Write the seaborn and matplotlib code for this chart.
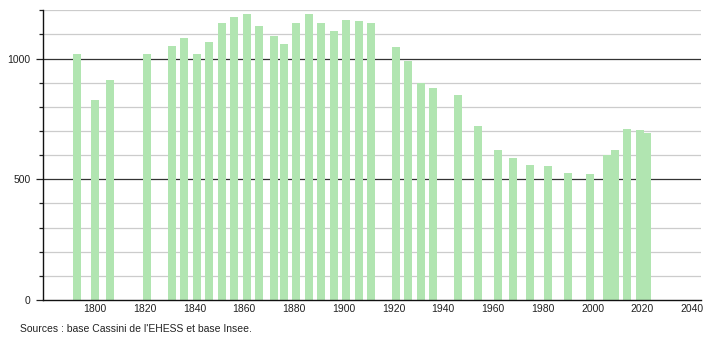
import matplotlib
matplotlib.use("Agg")
import matplotlib.pyplot as plt
import seaborn as sns
import numpy as np
import pandas as pd
from matplotlib.ticker import MultipleLocator, FixedLocator

years = [1793, 1800, 1806, 1821, 1831, 1836, 1841, 1846, 1851, 1856, 1861, 1866,
         1872, 1876, 1881, 1886, 1891, 1896, 1901, 1906, 1911, 1921, 1926, 1931,
         1936, 1946, 1954, 1962, 1968, 1975, 1982, 1990, 1999, 2006, 2009, 2014,
         2019, 2022]
population = [1020, 828, 910, 1020, 1051, 1085, 1020, 1067, 1147, 1171, 1186, 1136,
              1092, 1062, 1147, 1185, 1149, 1116, 1161, 1154, 1149, 1047, 992, 900,
              880, 848, 720, 620, 588, 558, 555, 526, 522, 600, 620, 710,
              706, 690]
xtick_labels = [1800, 1820, 1840, 1860, 1880, 1900, 1920, 1940, 1960, 1980, 2000, 2020, 2040]
ytick_labels = [0, 500, 1000]
source_text = "Sources : base Cassini de l'EHESS et base Insee."

sns.set_theme(style="white")
plt.rcParams['font.family'] = ['Liberation Sans', 'DejaVu Sans']

df = pd.DataFrame({"year": years, "pop": population})

fig = plt.figure(figsize=(7.1, 3.4), dpi=100)
ax = fig.add_axes([43.3 / 710, 40 / 340, (701 - 43.3) / 710, (300 - 10.3) / 340])

min_gap = np.min(np.diff(sorted(years)))
bar_years = 3.2
sns.barplot(data=df, x="year", y="pop", native_scale=True, width=bar_years / min_gap,
            color="#b1e5b1", saturation=1, errorbar=None, ax=ax, zorder=3,
            linewidth=0)

ax.set_xlim(1779.3, 2043.6)
ax.set_ylim(0, 1200)

# grid lines
for v in range(100, 1201, 100):
    if v % 500 == 0:
        ax.axhline(v, color="#333333", lw=0.9, zorder=1)
    else:
        ax.axhline(v, color="#cccccc", lw=0.9, zorder=1)

ax.xaxis.set_major_locator(FixedLocator(xtick_labels))
ax.set_xticklabels([str(t) for t in xtick_labels])
ax.yaxis.set_major_locator(FixedLocator(ytick_labels))
ax.set_yticklabels([str(t) for t in ytick_labels])
ax.yaxis.set_minor_locator(MultipleLocator(100))

ax.tick_params(axis="x", length=0, pad=3, labelsize=7.5, colors="#222222")
ax.tick_params(axis="y", which="major", length=5, width=0.9, direction="out",
               pad=4, labelsize=7.5, colors="#222222")
ax.tick_params(axis="y", which="minor", length=3, width=0.9, direction="out",
               color="#222222", left=True)
ax.tick_params(axis="y", which="major", left=True)

ax.set_xlabel("")
ax.set_ylabel("")
for s in ["top", "right"]:
    ax.spines[s].set_visible(False)
for s in ["left", "bottom"]:
    ax.spines[s].set_color("#111111")
    ax.spines[s].set_linewidth(1.0)
    ax.spines[s].set_zorder(5)

fig.text(20 / 710, (340 - 329) / 340, source_text, fontsize=7.5, color="#222222",
         ha="left", va="center")

fig.savefig("out.png", dpi=100, facecolor="white")
